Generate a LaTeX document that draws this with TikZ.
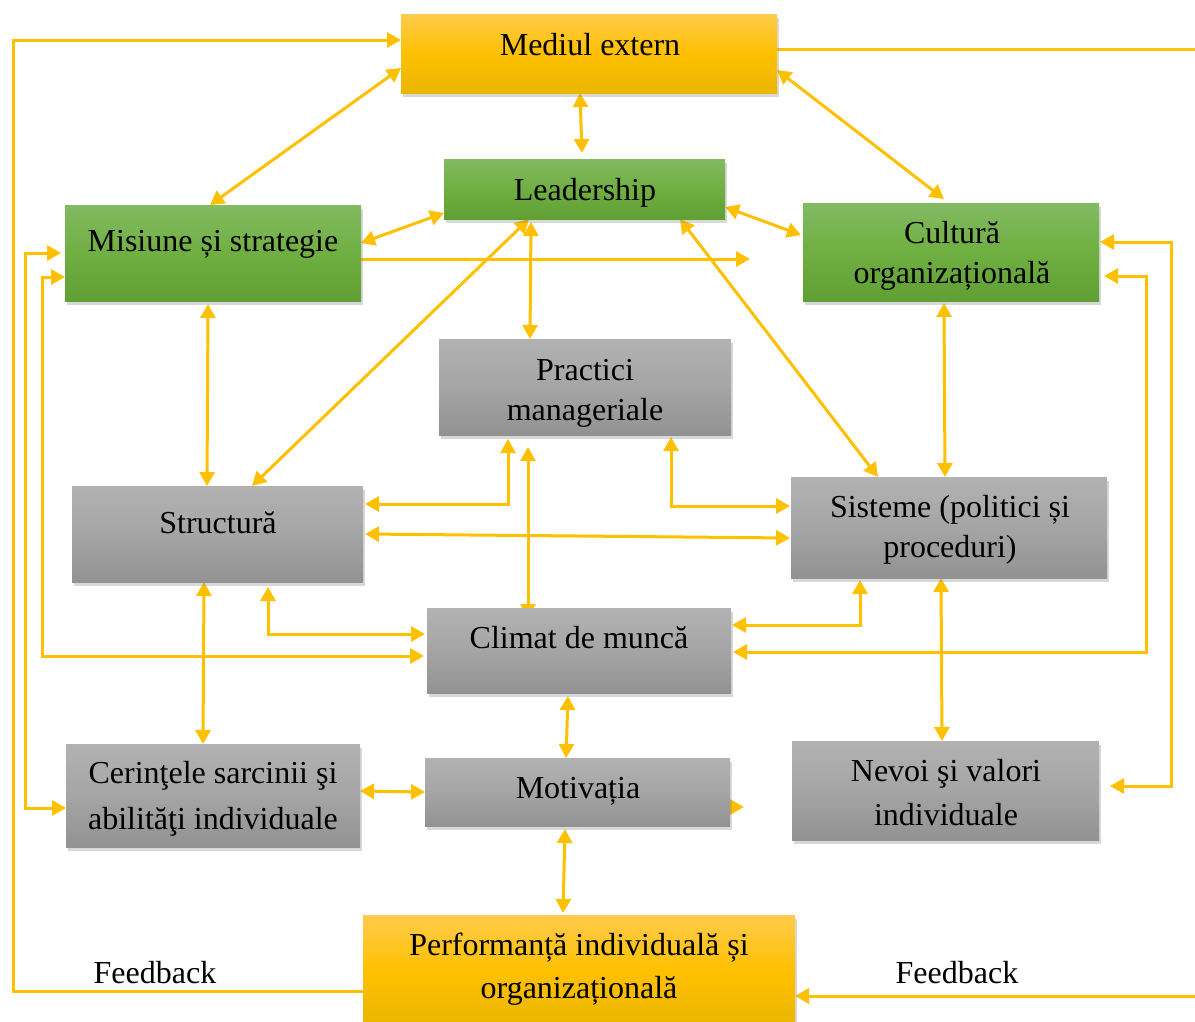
\documentclass[tikz,border=0pt]{standalone}
\usepackage{fontspec}
\setmainfont{Liberation Serif}
\usetikzlibrary{arrows.meta,calc,shadows}
\definecolor{gold}{HTML}{FFC000}
\definecolor{otop}{HTML}{FFCB4C}
\definecolor{omid}{HTML}{FFC000}
\definecolor{obot}{HTML}{E9B600}
\definecolor{gtop}{HTML}{82BA62}
\definecolor{gmid}{HTML}{70AF42}
\definecolor{gbot}{HTML}{5F9F33}
\definecolor{ytop}{HTML}{B2B2B2}
\definecolor{ymid}{HTML}{A5A5A5}
\definecolor{ybot}{HTML}{929292}
\pgfdeclarelayer{bg}
\pgfsetlayers{bg,main}
\begin{document}
\begin{tikzpicture}[x=1pt,y=-1pt,
  box/.style={anchor=north west, inner sep=0pt, outer sep=0pt, draw=none,
    drop shadow={shadow xshift=2pt,shadow yshift=-4pt,opacity=0.3}},
  obox/.style={box, top color=otop, bottom color=obot, middle color=omid},
  gbox/.style={box, top color=gtop, bottom color=gbot, middle color=gmid},
  ybox/.style={box, top color=ytop, bottom color=ybot, middle color=ymid},
  txt/.style={anchor=base, inner sep=0pt, font=\fontsize{32}{38}\selectfont},
  conn/.style={draw=gold, line width=3pt, line join=miter},
  bi/.style={conn, {Triangle[length=14pt,width=15pt]}-{Triangle[length=14pt,width=15pt]}},
  uni/.style={conn, -{Triangle[length=14pt,width=15pt]}}
]
\useasboundingbox (0,0) rectangle (1195,1021);
\begin{pgfonlayer}{bg}
\fill[white] (0,0) rectangle (1195,1021);
\end{pgfonlayer}

% boxes
\node[obox, minimum width=376pt, minimum height=79pt] (med) at (401,14) {};
\node[gbox, minimum width=281pt, minimum height=60pt] (lead) at (444,159) {};
\node[gbox, minimum width=296pt, minimum height=96pt] (mis) at (65,205) {};
\node[gbox, minimum width=296pt, minimum height=98pt] (cult) at (803,203) {};
\node[ybox, minimum width=292pt, minimum height=96pt] (prac) at (439,339) {};
\node[ybox, minimum width=291pt, minimum height=96pt] (str) at (72,486) {};
\node[ybox, minimum width=316pt, minimum height=101pt] (sis) at (791,477) {};
\node[ybox, minimum width=304pt, minimum height=85pt] (clim) at (427,608) {};
\node[ybox, minimum width=294pt, minimum height=103pt] (cer) at (66,744) {};
\node[ybox, minimum width=305pt, minimum height=68pt] (mot) at (425,758) {};
\node[ybox, minimum width=307pt, minimum height=99pt] (nev) at (792,741) {};
\node[obox, minimum width=432pt, minimum height=112pt] (perf) at (363,915) {};

% texts
\node[txt] (medT) at (590,55) {Mediul extern};
\node[txt] (leadT) at (585,200) {Leadership};
\node[txt] (misT) at (213,251) {Misiune și strategie};
\node[txt] (cultA) at (952,243) {Cultură};
\node[txt] (cultB) at (952,283) {organizațională};
\node[txt] (pracA) at (585,380) {Practici};
\node[txt] (pracB) at (585,420) {manageriale};
\node[txt] (strT) at (218,533) {Structură};
\node[txt] (sisA) at (950,517) {Sisteme (politici și};
\node[txt] (sisB) at (950,557) {proceduri)};
\node[txt] (climT) at (579,648) {Climat de muncă};
\node[txt] (cerA) at (213,783) {Cerinţele sarcinii şi};
\node[txt] (cerB) at (213,829) {abilităţi individuale};
\node[txt] (motT) at (578,798) {Motivația};
\node[txt] (nevA) at (946,781) {Nevoi şi valori};
\node[txt] (nevB) at (946,825) {individuale};
\node[txt] (perfA) at (579,955) {Performanță individuală și};
\node[txt] (perfB) at (579,998) {organizațională};
\node[txt] (fbL) at (155,983) {Feedback};
\node[txt] (fbR) at (957,983) {Feedback};

\coordinate (misEnd) at (750,259);
\coordinate (motEnd) at (744,807);

\begin{pgfonlayer}{bg}
% feedback loops
\draw[uni] (perf.west |- 0,991) -- (13,991) -- (13,40) -- (med.west |- 0,40);
\draw[uni] (med.east |- 0,49) -- (1210,49) -- (1210,996) -- (perf.east |- 0,996);
% diagonals and verticals at the top
\draw[bi] (med.west |- 0,68) -- (mis.north -| 210,0);
\draw[bi] (med.south -| 580,0) -- ($(lead.north)+(-2.5,-6)$);
\draw[bi] (med.east |- 0,70) -- ($(cult.north)+(-7,-4)$);
\draw[bi] (mis.east |- 0,243) -- (lead.west |- 0,213);
\draw[uni] (mis.east |- 0,259) -- (misEnd);
\draw[bi] (lead.east |- 0,207) -- ($(cult.west |- 0,235)+(-2,0)$);
\draw[bi] (lead.south -| 529,0) -- (str.north -| 252,0);
\draw[bi] ($(lead.south -| 531,0)+(0,3)$) -- (prac.north -| 530,0);
\draw[bi] (lead.south -| 680,0) -- (sis.north -| 878,0);
\draw[bi] ($(mis.south -| 208,0)+(0,3)$) -- (str.north -| 207,0);
\draw[bi] ($(cult.south -| 944,0)+(0,2)$) -- (sis.north -| 945,0);
% left elbows
\draw[bi] ($(mis.west |- 0,253)+(-4,0)$) -- (25,253) -- (25,808) -- (cer.west |- 0,808);
\draw[bi] (mis.west |- 0,277) -- (42,277) -- (42,656) -- ($(clim.west |- 0,656)+(-3,0)$);
% middle
\draw[bi] ($(str.east |- 0,504)+(2,0)$) -- (508,504) -- ($(prac.south -| 508,0)+(0,4)$);
\draw[bi] ($(str.east |- 0,534)+(2,0)$) -- ($(sis.west |- 0,538)+(-1,0)$);
\draw[bi] ($(prac.south -| 528,0)+(0,12)$) -- ($(clim.north -| 528,0)+(0,10)$);
\draw[bi] ($(prac.south -| 671,0)+(0,2)$) -- (671,506) -- ($(sis.west |- 0,506)+(-1,0)$);
\draw[bi] ($(str.south -| 268,0)+(0,5)$) -- (268,634) -- ($(clim.west |- 0,634)+(-2,0)$);
\draw[bi] ($(clim.east |- 0,625)+(1,0)$) -- (860,625) -- ($(sis.south -| 860,0)+(0,2)$);
% right elbows
\draw[bi] ($(cult.east |- 0,276)+(5,0)$) -- (1146,276) -- (1146,652) -- ($(clim.east |- 0,652)+(2,0)$);
\draw[bi] ($(cult.east |- 0,242)+(1,0)$) -- (1171,242) -- (1171,786) -- ($(nev.east |- 0,786)+(11,0)$);
% lower verticals
\draw[bi] (sis.south -| 941,0) -- (nev.north -| 942,0);
\draw[bi] (str.south -| 204,0) -- (cer.north -| 203,0);
\draw[bi] (cer.east |- 0,791) -- (mot.west |- 0,792);
\draw[bi] ($(clim.south -| 568,0)+(0,3)$) -- (mot.north -| 566,0);
\draw[bi] ($(mot.south -| 565,0)+(0,3)$) -- ($(perf.north -| 563,0)+(0,-2)$);
\draw[uni] (mot.east |- 0,807) -- (motEnd);
\end{pgfonlayer}
\end{tikzpicture}
\end{document}
